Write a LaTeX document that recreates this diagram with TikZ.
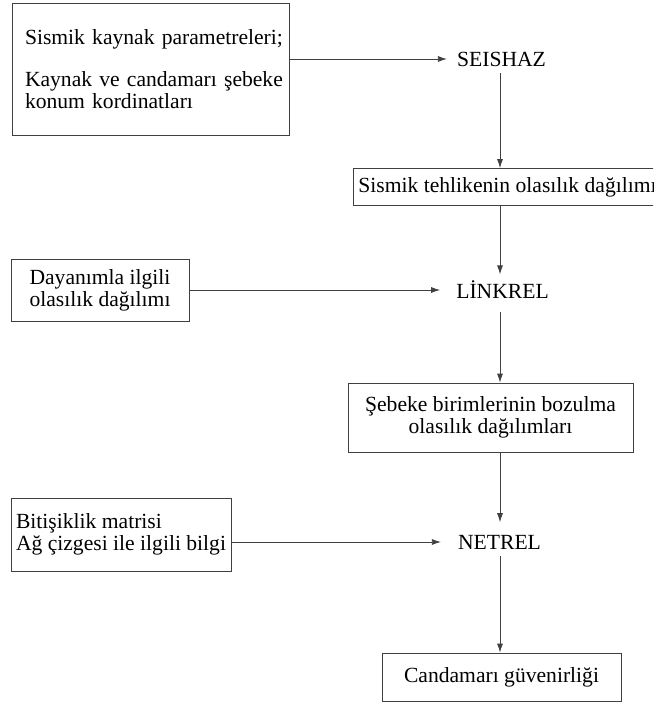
\documentclass[tikz,border=0pt]{standalone}
\usepackage{fontspec}
\setmainfont{Liberation Serif}
\usetikzlibrary{arrows.meta,calc}
\begin{document}
\begin{tikzpicture}[x=1pt,y=1pt,
  every node/.style={font=\fontsize{21.6}{22}\selectfont, text=black},
  box/.style={draw=black!75, line width=0.8pt, inner sep=0pt},
  prog/.style={inner ysep=6.5pt},
  arr/.style={draw=black!75, line width=0.8pt, -{Latex[length=9pt,width=6pt]}}]
\useasboundingbox (0,0) rectangle (653,-706);
\clip (0,0) rectangle (653,-706);
% input boxes
\node[box, minimum height=132pt, text width=251pt, inner xsep=13pt, align=left] (b1) at (150.5,-69)
  {\mbox{Sismik kaynak parametreleri;}\\[20pt]\mbox{Kaynak ve candamarı şebeke}\\\mbox{konum kordinatları}};
\node[box, minimum width=178pt, minimum height=62pt, align=center] (day) at (100,-290)
  {Dayanımla ilgili\\olasılık dağılımı};
\node[box, minimum width=220pt, minimum height=73pt, align=left] (bit) at (121,-534.5)
  {Bitişiklik matrisi\\Ağ çizgesi ile ilgili bilgi};
% programs
\node[prog, inner xsep=10pt] (seis) at (501.5,-59) {SEISHAZ};
\node[prog, inner xsep=16pt] (link) at (502.5,-290) {LİNKREL};
\node[prog, inner xsep=17pt] (net) at (499.5,-542) {NETREL};
% results
\node[box, anchor=west, minimum height=37pt, inner xsep=5pt] (b2) at (353,-187)
  {Sismik tehlikenin olasılık dağılımı};
\node[box, minimum width=285pt, minimum height=69pt, align=center] (b3) at (490.5,-417.5)
  {Şebeke birimlerinin bozulma\\olasılık dağılımları};
\node[box, minimum width=239pt, minimum height=48pt] (cg) at (501.5,-677)
  {Candamarı güvenirliği};
\coordinate (spine) at (500,0);
% connectors
\draw[arr] (b1.east |- seis) -- (seis.west);
\draw[arr] (day.east) -- (link.west);
\draw[arr] (bit.east |- net) -- (net.west);
\draw[arr] (seis.south -| spine) -- (b2.north -| spine);
\draw[arr] (b2.south -| spine) -- (link.north -| spine);
\draw[arr, shorten <=6pt] (link.south -| spine) -- (b3.north -| spine);
\draw[arr, shorten >=6pt] (b3.south -| spine) -- (net.north -| spine);
\draw[arr] (net.south -| spine) -- (cg.north -| spine);
\end{tikzpicture}
\end{document}
